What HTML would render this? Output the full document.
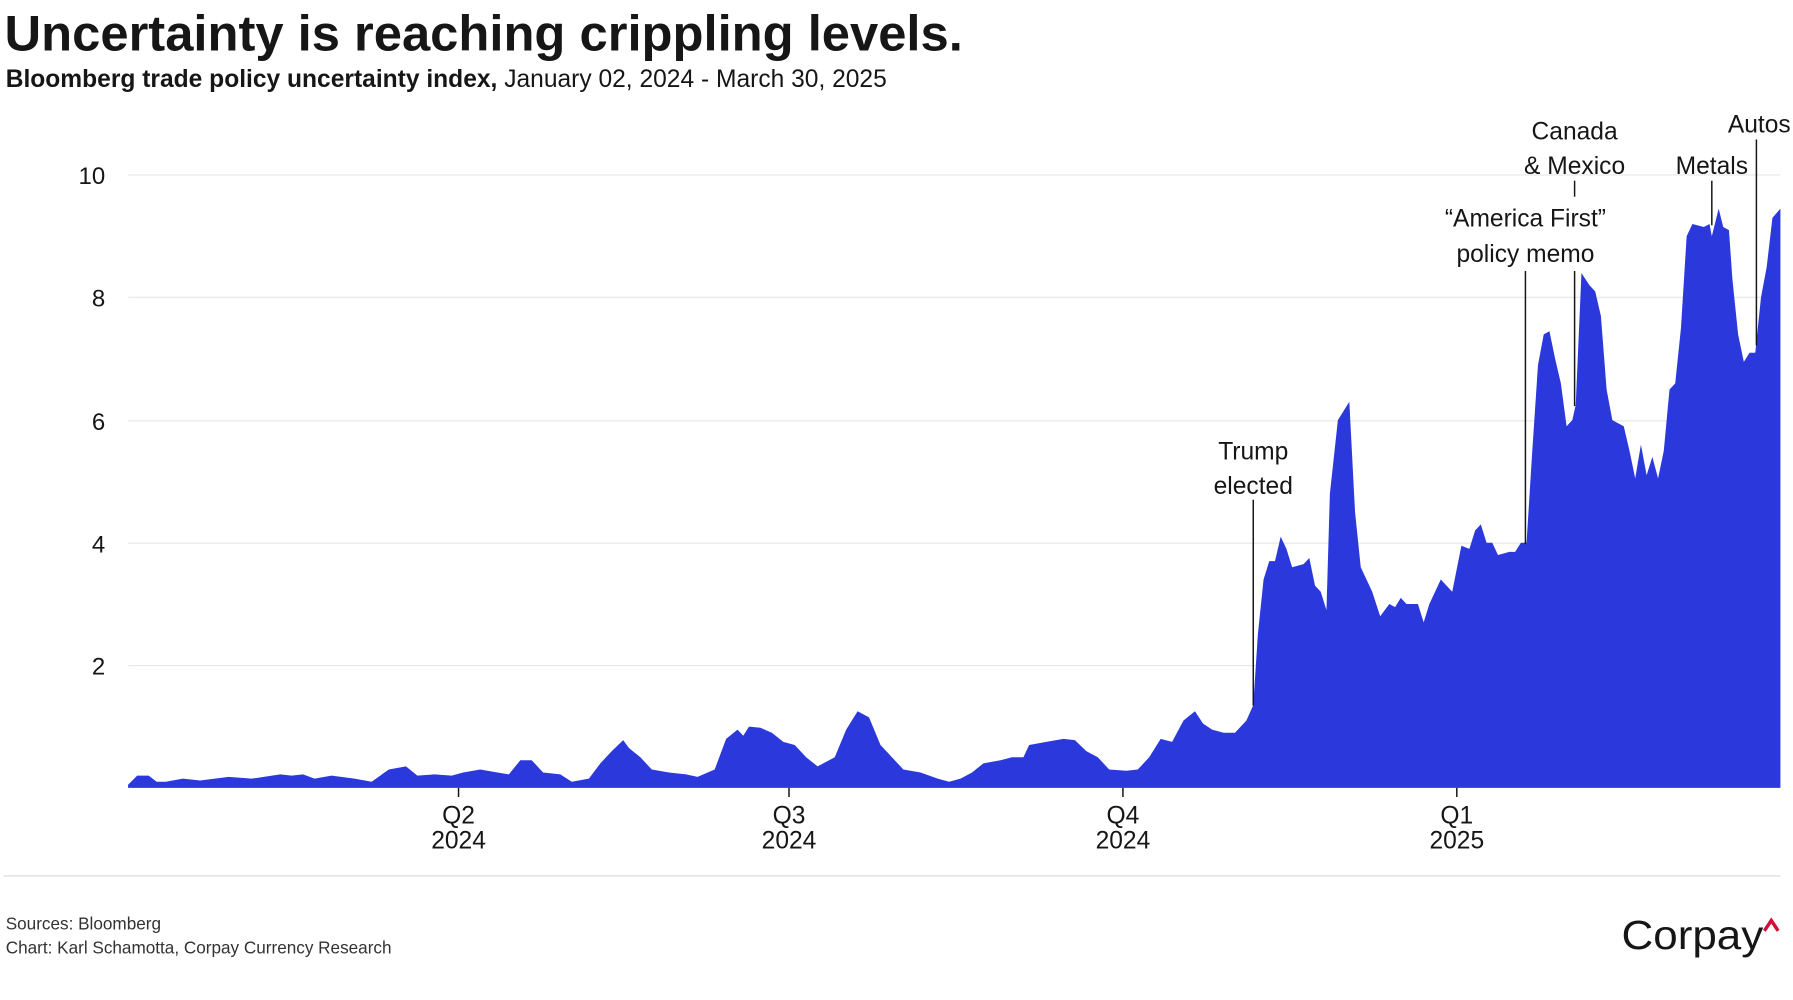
<!DOCTYPE html>
<html><head><meta charset="utf-8"><style>
html,body{margin:0;padding:0;background:#fff;}
svg{display:block;font-family:"Liberation Sans",sans-serif;}
</style></head><body>
<svg width="1793" height="1000" viewBox="0 0 1568 874.5" xmlns="http://www.w3.org/2000/svg">
<text x="4" y="44" font-size="44" font-weight="bold" fill="#161616" textLength="838" lengthAdjust="spacingAndGlyphs">Uncertainty is reaching crippling levels.</text>
<text x="5" y="76" font-size="21.5" fill="#161616"><tspan font-weight="bold">Bloomberg trade policy uncertainty index,</tspan> January 02, 2024 - March 30, 2025</text>
<g stroke="#e6e6e6" stroke-width="1">
<line x1="112" y1="153" x2="1557" y2="153"/>
<line x1="112" y1="260" x2="1557" y2="260"/>
<line x1="112" y1="368" x2="1557" y2="368"/>
<line x1="112" y1="475" x2="1557" y2="475"/>
<line x1="112" y1="582" x2="1557" y2="582"/>
</g>
<g font-size="21" fill="#161616" text-anchor="end">
<text x="92" y="161">10</text><text x="92" y="268">8</text><text x="92" y="376">6</text><text x="92" y="483">4</text><text x="92" y="590">2</text>
</g>
<path fill="#2b38dc" transform="translate(0,689) scale(1,-53.6)" d="M112,0 L112,0.05 120,0.2 130,0.2 137,0.1 145,0.1 160,0.15 175,0.12 200,0.18 220,0.15 245,0.22 255,0.2 265,0.22 275,0.15 290,0.2 310,0.15 325,0.1 340,0.3 355,0.35 365,0.2 380,0.22 395,0.2 405,0.25 420,0.3 435,0.25 445,0.22 455,0.45 465,0.45 475,0.25 490,0.22 500,0.1 515,0.15 525,0.4 535,0.6 545,0.78 550,0.65 560,0.5 570,0.3 585,0.25 600,0.22 610,0.18 625,0.3 635,0.8 645,0.95 650,0.85 655,1.0 665,0.98 675,0.9 685,0.75 695,0.7 705,0.5 715,0.35 730,0.5 740,0.95 750,1.25 760,1.15 770,0.7 780,0.5 790,0.3 805,0.25 820,0.15 830,0.1 840,0.15 850,0.25 860,0.4 875,0.45 885,0.5 895,0.5 900,0.7 915,0.75 930,0.8 940,0.78 950,0.6 960,0.5 970,0.3 985,0.28 995,0.3 1005,0.5 1015,0.8 1025,0.75 1035,1.1 1045,1.25 1052,1.05 1060,0.95 1070,0.9 1080,0.9 1090,1.1 1096,1.35 1100,2.5 1105,3.4 1110,3.7 1115,3.7 1120,4.1 1125,3.9 1130,3.6 1140,3.65 1145,3.75 1150,3.3 1155,3.2 1160,2.9 1163,4.8 1170,6.0 1180,6.3 1185,4.5 1190,3.6 1195,3.4 1200,3.2 1207,2.8 1215,3.0 1220,2.95 1225,3.1 1230,3.0 1240,3.0 1245,2.7 1250,3.0 1260,3.4 1270,3.2 1278,3.95 1285,3.9 1290,4.2 1295,4.3 1300,4.0 1305,4.0 1310,3.8 1320,3.85 1325,3.85 1330,4.0 1335,4.0 1340,5.5 1345,6.9 1350,7.4 1355,7.45 1360,7.0 1365,6.6 1370,5.9 1375,6.0 1378,6.25 1383,8.4 1390,8.2 1395,8.1 1400,7.7 1405,6.5 1410,6.0 1415,5.95 1420,5.9 1425,5.5 1430,5.05 1435,5.6 1440,5.1 1445,5.4 1450,5.05 1455,5.5 1460,6.5 1465,6.6 1470,7.5 1475,9.0 1480,9.2 1490,9.15 1495,9.2 1497,9.0 1503,9.45 1507,9.15 1512,9.1 1515,8.3 1520,7.4 1525,6.95 1530,7.1 1535,7.1 1540,8.0 1545,8.5 1550,9.3 1557,9.45 L1557,0 Z"/>
<g stroke="#161616" stroke-width="1.3">
<line x1="401" y1="689" x2="401" y2="697"/><line x1="690" y1="689" x2="690" y2="697"/><line x1="982" y1="689" x2="982" y2="697"/><line x1="1274" y1="689" x2="1274" y2="697"/>
<line x1="1096" y1="437" x2="1096" y2="617"/>
<line x1="1334" y1="237" x2="1334" y2="476"/>
<line x1="1377" y1="158" x2="1377" y2="172"/>
<line x1="1377" y1="237" x2="1377" y2="355"/>
<line x1="1497" y1="158" x2="1497" y2="197"/>
<line x1="1536" y1="122" x2="1536" y2="302"/>
</g>
<g font-size="21.5" fill="#161616" text-anchor="middle">
<text x="401" y="720">Q2</text><text x="401" y="742">2024</text>
<text x="690" y="720">Q3</text><text x="690" y="742">2024</text>
<text x="982" y="720">Q4</text><text x="982" y="742">2024</text>
<text x="1274" y="720">Q1</text><text x="1274" y="742">2025</text>
<text x="1096" y="402">Trump</text><text x="1096" y="432">elected</text>
<text x="1334" y="198">“America First”</text><text x="1334" y="229">policy memo</text>
<text x="1377" y="122">Canada</text><text x="1377" y="152">&amp; Mexico</text>
<text x="1497" y="152">Metals</text>
<text x="1566" y="116" text-anchor="end">Autos</text>
</g>
<line x1="3" y1="766" x2="1557" y2="766" stroke="#d8d8d8" stroke-width="1"/>
<text x="5" y="813" font-size="15" fill="#333">Sources: Bloomberg</text>
<text x="5" y="834" font-size="15" fill="#333">Chart: Karl Schamotta, Corpay Currency Research</text>
<text x="1418" y="830" font-size="36" fill="#161616" textLength="124" lengthAdjust="spacingAndGlyphs">Corpay</text>
<path d="M1543,814 L1549,805 L1555,814" fill="none" stroke="#d0103a" stroke-width="3"/>
</svg>
</body></html>
